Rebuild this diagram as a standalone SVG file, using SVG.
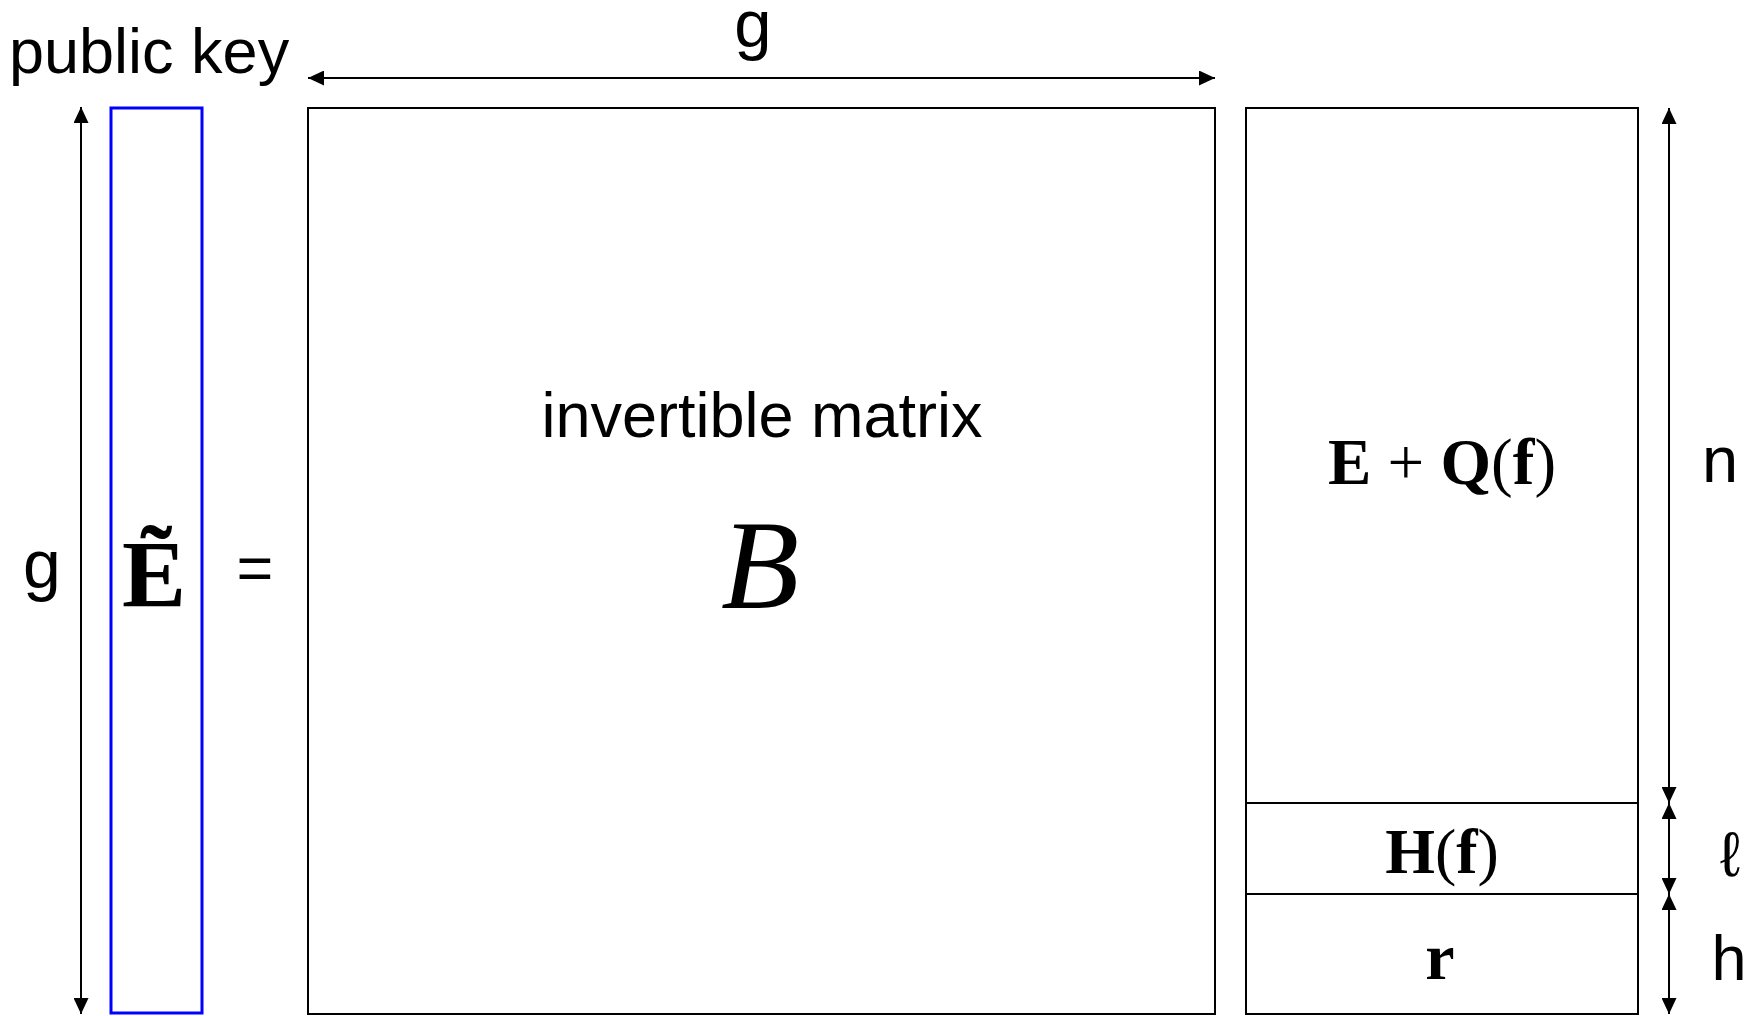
<svg xmlns="http://www.w3.org/2000/svg" width="1758" height="1016" viewBox="0 0 1758 1016">
<style>
.box{fill:#ffffff;stroke:#000000;stroke-width:2}
.pk{fill:#ffffff;stroke:#0000ff;stroke-width:3}
.arr{stroke:#000000;stroke-width:2;fill:none;marker-start:url(#ah);marker-end:url(#ah)}
.sans{font-family:"Liberation Sans",Arial,sans-serif;fill:#000000}
.serif{font-family:"Liberation Serif","Times New Roman",serif;fill:#000000}
.b{font-weight:bold}
</style>
<defs>
<marker id="ah" markerUnits="userSpaceOnUse" markerWidth="16" markerHeight="15" refX="16" refY="7.5" orient="auto-start-reverse" viewBox="0 0 16 15">
<path d="M0,0 L16,7.5 L0,15 Z" fill="#000000"/>
</marker>
</defs>
<rect width="1758" height="1016" fill="#ffffff"/>
<g id="connectors">
<line class="arr" x1="308" y1="78" x2="1215" y2="78"/>
<line class="arr" x1="81" y1="107" x2="81" y2="1014"/>
<line class="arr" x1="1669" y1="108" x2="1669" y2="803"/>
<line class="arr" x1="1669" y1="803" x2="1669" y2="894"/>
<line class="arr" x1="1669" y1="894" x2="1669" y2="1014"/>
</g>
<g id="public-key">
<text class="sans" x="9" y="73" font-size="63">public key</text>
<rect class="pk" x="111" y="108" width="91" height="905"/>
<text class="serif b" x="154" y="607" font-size="96" text-anchor="middle">Ẽ</text>
</g>
<g id="labels">
<text class="sans" x="753" y="47" font-size="67" text-anchor="middle">g</text>
<text class="sans" x="42" y="588" font-size="68" text-anchor="middle">g</text>
<text class="sans" x="255" y="590" font-size="63" text-anchor="middle">=</text>
<text class="sans" x="1720" y="482" font-size="65" text-anchor="middle">n</text>
<text class="sans" x="1730" y="876" font-size="63" text-anchor="middle">ℓ</text>
<text class="sans" x="1729" y="980" font-size="63" text-anchor="middle">h</text>
</g>
<g id="matrix-B">
<rect class="box" x="308" y="108" width="907" height="906"/>
<text class="sans" x="762" y="437" font-size="63" text-anchor="middle">invertible matrix</text>
<text class="serif" x="760" y="608" font-size="128" font-style="italic" text-anchor="middle">B</text>
</g>
<g id="matrix-right">
<rect class="box" x="1246" y="108" width="392" height="906"/>
<line x1="1246" y1="803" x2="1638" y2="803" stroke="#000000" stroke-width="2"/>
<line x1="1246" y1="894" x2="1638" y2="894" stroke="#000000" stroke-width="2"/>
<text class="serif" x="1442" y="484" font-size="65" text-anchor="middle"><tspan class="b">E</tspan> + <tspan class="b">Q</tspan>(<tspan class="b">f</tspan>)</text>
<text class="serif" x="1442" y="873" font-size="64" text-anchor="middle"><tspan class="b">H</tspan>(<tspan class="b">f</tspan>)</text>
<text class="serif b" x="1440" y="979" font-size="66" text-anchor="middle">r</text>
</g>
</svg>
